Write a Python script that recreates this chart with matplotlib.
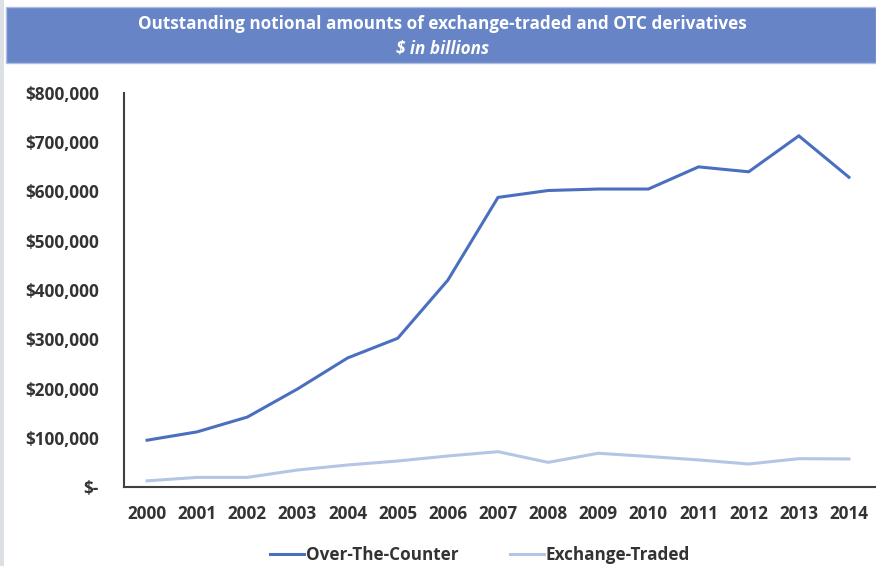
import matplotlib.pyplot as plt
from matplotlib.patches import Rectangle
from matplotlib.ticker import FuncFormatter

# Outstanding notional amounts, $ billions
years = ['2000', '2001', '2002', '2003', '2004', '2005', '2006', '2007',
         '2008', '2009', '2010', '2011', '2012', '2013', '2014']
otc = [95000, 112000, 142000, 199000, 262000, 302000, 420000, 588000,
       602000, 605000, 605000, 650000, 640000, 713000, 629000]
exchange = [12500, 19500, 19500, 34500, 44700, 52800, 63000, 71700,
            50000, 68500, 62000, 55000, 46700, 57500, 57000]

plt.rcParams['font.family'] = ['Open Sans', 'DejaVu Sans']

fig = plt.figure(figsize=(8.76, 5.66), dpi=100)

# grey strip on the left edge
fig.patches.append(Rectangle((0, 0), 4 / 876, 1, transform=fig.transFigure,
                             facecolor='#dcdfe3', edgecolor='none', zorder=0))

# title banner
fig.patches.append(Rectangle((6 / 876, 1 - 63 / 566), 1 - 6 / 876, 56 / 566,
                             transform=fig.transFigure, facecolor='#6684c6',
                             edgecolor='#aebde2', linewidth=1, zorder=1))
fig.text(0.505, 1 - 24 / 566, 'Outstanding notional amounts of exchange-traded and OTC derivatives',
         ha='center', va='center', color='white', fontsize=12.3, fontweight='bold')
fig.text(0.505, 1 - 49 / 566, '$ in billions', ha='center', va='center',
         color='white', fontsize=12.3, fontweight='bold', style='italic')

ax = fig.add_axes([124 / 876, 1 - 487 / 566, 1 - 124 / 876, 394 / 566])
x = range(len(years))
ax.plot(x, otc, color='#4a6fbf', linewidth=2.2, label='Over-The-Counter',
        solid_joinstyle='miter')
ax.plot(x, exchange, color='#b4c6e7', linewidth=2.2, label='Exchange-Traded',
        solid_joinstyle='miter')

ax.set_xlim(-0.46, 14.54)
ax.set_ylim(0, 800000)
ax.set_yticks(range(0, 800001, 100000))
ax.yaxis.set_major_formatter(FuncFormatter(lambda v, p: '$-' if v == 0 else f'${v:,.0f}'))
ax.set_xticks(list(x))
ax.set_xticklabels(years)

for s in ['top', 'right']:
    ax.spines[s].set_visible(False)
for s in ['left', 'bottom']:
    ax.spines[s].set_color('#404040')
    ax.spines[s].set_linewidth(1.5)

ax.tick_params(axis='both', length=0, labelsize=12.3, labelcolor='#333333')
ax.tick_params(axis='y', pad=18)
ax.tick_params(axis='x', pad=13)
for lbl in ax.get_xticklabels() + ax.get_yticklabels():
    lbl.set_fontweight('bold')

leg = fig.legend(loc='center', bbox_to_anchor=(480 / 876, 1 - 555 / 566), ncol=2,
                 frameon=False, fontsize=12.3, handlelength=2.0, columnspacing=3.0,
                 handletextpad=0.1)
for t in leg.get_texts():
    t.set_fontweight('bold')
    t.set_color('#333333')

fig.savefig('out.png', dpi=100)
